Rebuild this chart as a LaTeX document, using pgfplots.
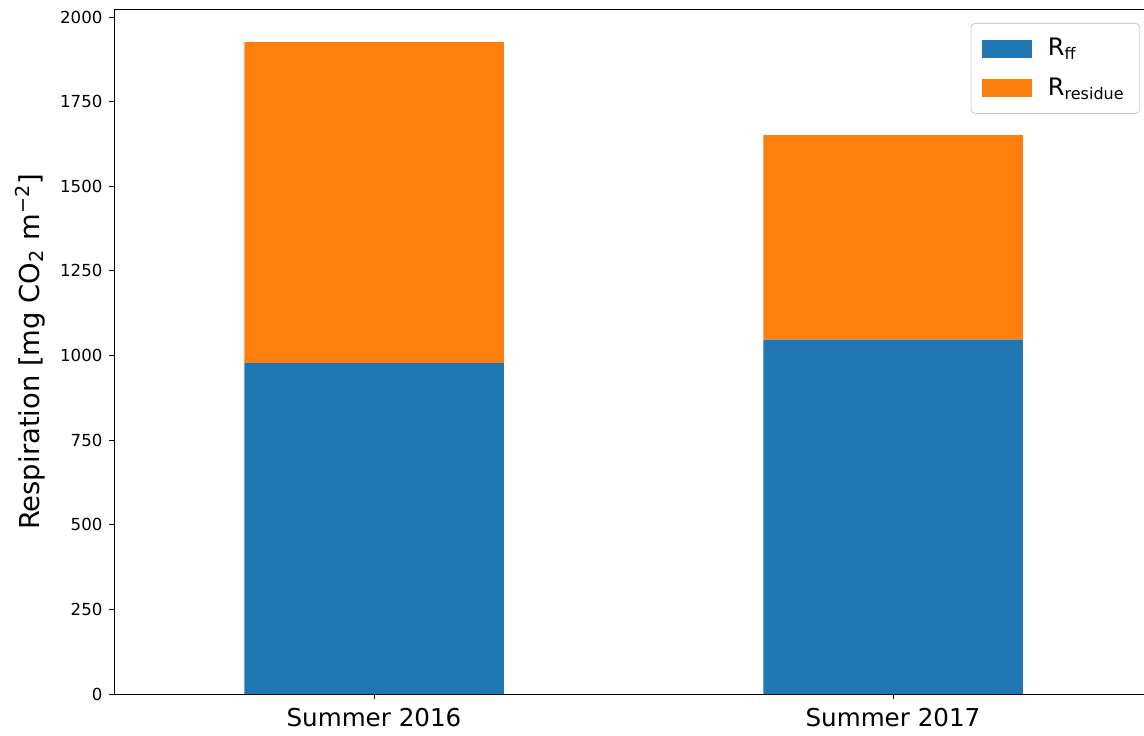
\documentclass[border=0pt]{standalone}
\usepackage{pgfplots}
\pgfplotsset{compat=1.18}
\usepackage{fontspec}
\setmainfont{DejaVu Sans}
\definecolor{mblue}{HTML}{1F77B4}
\definecolor{morange}{HTML}{FF7F0E}
\pgfplotstableread{
x ff residue
0 978 948
1 1047 604
}\datatable
\begin{document}
\begin{tikzpicture}
\useasboundingbox (0,0) rectangle (572pt,367.5pt);
\begin{axis}[
  at={(57.25pt,20.5pt)}, anchor=south west,
  scale only axis, width=519pt, height=342pt,
  ybar stacked, bar width=0.5,
  xmin=-0.5, xmax=1.5, ymin=0, ymax=2021,
  xtick={0,1}, xticklabels={Summer 2016, Summer 2017},
  ytick={0,250,...,2000},
  xtick pos=bottom, ytick pos=left,
  tick align=outside, major tick length=2.5pt,
  /pgf/number format/assume math mode=true,
  /pgf/number format/1000 sep={},
  yticklabel style={font=\fontsize{8.3}{10}\selectfont},
  xticklabel style={font=\fontsize{12.3}{14}\selectfont, yshift=-1pt},
  ylabel={Respiration [mg CO\textsubscript{2} m\textsuperscript{−2}]},
  ylabel style={font=\fontsize{13.7}{16}\selectfont, at={(axis description cs:-0.0814,0.5)}, anchor=center},
  axis line style={black, line width=0.5pt},
  tick style={black, line width=0.5pt},
  legend style={at={(axis description cs:0.988,0.981)}, anchor=north east,
    draw=black!20, rounded corners=2pt, font=\fontsize{12}{14}\selectfont,
    row sep=5.5pt, inner sep=5.5pt, cells={anchor=west}},
  legend image code/.code={\fill[#1, sharp corners] (0pt,-4.5pt) rectangle (25pt,4.5pt); \path (31pt,0);},
]
\addplot[fill=mblue, draw=none] table[x=x, y=ff]{\datatable};
\addplot[fill=morange, draw=none] table[x=x, y=residue]{\datatable};
\legend{R\textsubscript{ff}, R\textsubscript{residue}}
\end{axis}
\end{tikzpicture}
\end{document}
